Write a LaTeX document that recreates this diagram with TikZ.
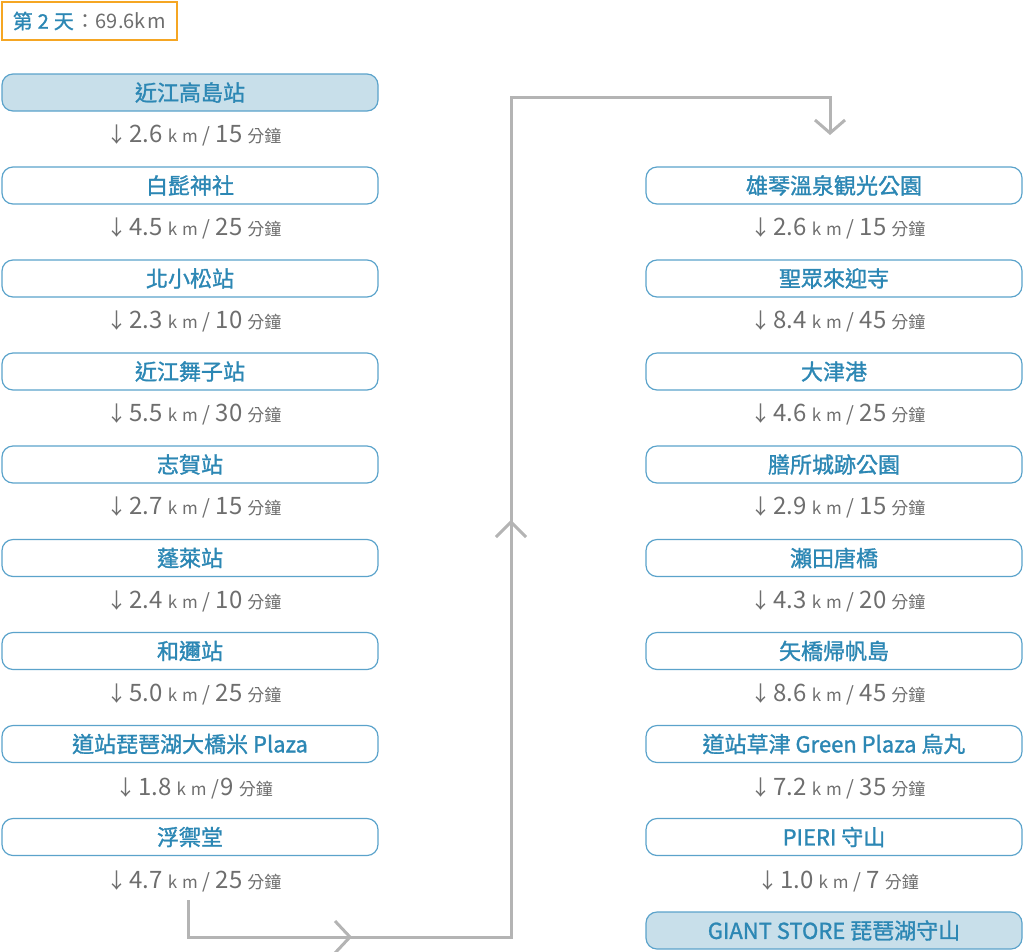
\documentclass[tikz,border=0pt]{standalone}
\usepackage{fontspec}
\setmainfont{Noto Sans CJK TC}
\newfontfamily\boxfont[FakeBold=1.3]{Noto Sans CJK TC}
\usetikzlibrary{arrows.meta}
\definecolor{boxblue}{HTML}{5BA3CB}
\definecolor{txtblue}{HTML}{2C87B4}
\definecolor{fillblue}{HTML}{C8DFEA}
\definecolor{gtxt}{HTML}{6E6E6E}
\definecolor{conngray}{HTML}{B4B4B4}
\definecolor{orangeb}{HTML}{F5A623}
\newcommand\distlbl[3][\kern5pt]{{\fontsize{21}{21}\selectfont ↓}\kern2pt{\fontsize{24}{24}\selectfont #2}\kern5pt{\fontsize{17}{17}\selectfont k\kern5pt m}\kern5pt{\fontsize{20}{20}\selectfont /}#1{\fontsize{24}{24}\selectfont #3}\kern5pt{\fontsize{17}{17}\selectfont 分鐘}}
\tikzset{
  stop/.style={draw=boxblue, line width=1.2pt, rounded corners=11pt, minimum width=376pt, minimum height=37pt, inner sep=0pt, text=txtblue, font=\boxfont\fontsize{22}{22}\selectfont},
  endstop/.style={stop, fill=fillblue},
  dlbl/.style={text=gtxt, inner sep=0pt, anchor=center},
  conn/.style={draw=conngray, line width=3pt},
}
\begin{document}
\begin{tikzpicture}[x=1pt,y=-1pt]
\useasboundingbox (0,0) rectangle (1024,951);
\node[draw=orangeb, line width=1.3pt, minimum width=175pt, minimum height=38pt, inner sep=0pt, font=\fontsize{20}{20}\selectfont] (title) at (89.5,21) {\textcolor{txtblue}{\boxfont 第\kern5pt 2\kern5pt 天\kern2pt}\textcolor{gtxt}{：69.6k\kern2pt m}};
% left column
\node[endstop] (L1) at (190,92.5) {近江高島站};
\node[stop] (L2) at (190,185.5) {白髭神社};
\node[stop] (L3) at (190,278.5) {北小松站};
\node[stop] (L4) at (190,371.5) {近江舞子站};
\node[stop] (L5) at (190,464.5) {志賀站};
\node[stop] (L6) at (190,558) {蓬萊站};
\node[stop] (L7) at (190,651) {和邇站};
\node[stop] (L8) at (190,744) {道站琵琶湖大橋米 Plaza};
\node[stop] (L9) at (190,837) {浮禦堂};
\node[dlbl] (dL1) at (194,135) {\distlbl{2.6}{15}};
\node[dlbl] (dL2) at (194,228) {\distlbl{4.5}{25}};
\node[dlbl] (dL3) at (194,321) {\distlbl{2.3}{10}};
\node[dlbl] (dL4) at (194,414) {\distlbl{5.5}{30}};
\node[dlbl] (dL5) at (194,507) {\distlbl{2.7}{15}};
\node[dlbl] (dL6) at (194,601) {\distlbl{2.4}{10}};
\node[dlbl] (dL7) at (194,694) {\distlbl{5.0}{25}};
\node[dlbl] (dL8) at (194,788) {\distlbl[\kern1pt]{1.8}{9}};
\node[dlbl] (dL9) at (194,881) {\distlbl{4.7}{25}};
% right column
\node[stop] (R1) at (834,185.5) {雄琴溫泉観光公園};
\node[stop] (R2) at (834,278.5) {聖眾來迎寺};
\node[stop] (R3) at (834,371.5) {大津港};
\node[stop] (R4) at (834,464.5) {膳所城跡公園};
\node[stop] (R5) at (834,558) {瀨田唐橋};
\node[stop] (R6) at (834,651) {矢橋帰帆島};
\node[stop] (R7) at (834,744) {道站草津 Green Plaza 烏丸};
\node[stop] (R8) at (834,837) {PIERI 守山};
\node[endstop] (R9) at (834,930.5) {GIANT STORE 琵琶湖守山};
\node[dlbl] (dR1) at (838,228) {\distlbl{2.6}{15}};
\node[dlbl] (dR2) at (838,321) {\distlbl{8.4}{45}};
\node[dlbl] (dR3) at (838,414) {\distlbl{4.6}{25}};
\node[dlbl] (dR4) at (838,507) {\distlbl{2.9}{15}};
\node[dlbl] (dR5) at (838,601) {\distlbl{4.3}{20}};
\node[dlbl] (dR6) at (838,694) {\distlbl{8.6}{45}};
\node[dlbl] (dR7) at (838,788) {\distlbl{7.2}{35}};
\node[dlbl] (dR8) at (838,881) {\distlbl{1.0}{7}};
% connector
\coordinate (s) at (188,900);
\coordinate (c1) at (511,937);
\coordinate (c2) at (830,97);
\coordinate (e) at (830,135);
\draw[conn, -{Straight Barb[length=13pt,width=30pt]}] (s) |- (c1) |- (c2) -- (e);
\coordinate (m1) at (350,937);
\coordinate (m2) at (511,522);
\draw[conn] ([shift={(-15,-16)}]m1) -- (m1) -- ([shift={(-15,16)}]m1);
\draw[conn] ([shift={(-15,15)}]m2) -- (m2) -- ([shift={(15,15)}]m2);
\end{tikzpicture}
\end{document}
